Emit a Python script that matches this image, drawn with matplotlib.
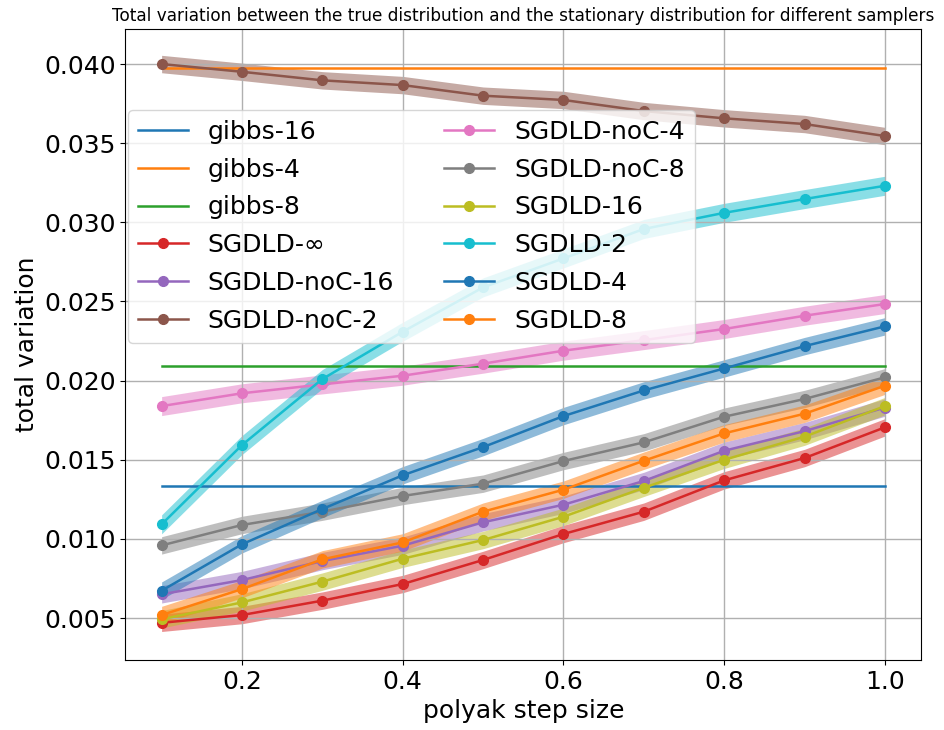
import numpy as np
import matplotlib
matplotlib.use("Agg")
import matplotlib.pyplot as plt

# polyak step sizes
steps = [0.1, 0.2, 0.3, 0.4, 0.5, 0.6, 0.7, 0.8, 0.9, 1.0]

# gibbs baselines (constant over step size)
gibbs_names = ["gibbs-16", "gibbs-4", "gibbs-8"]
gibbs_tv = [0.01332, 0.03977, 0.02092]

# SGDLD samplers
sgdld_names = ["SGDLD-∞", "SGDLD-noC-16", "SGDLD-noC-2", "SGDLD-noC-4",
               "SGDLD-noC-8", "SGDLD-16", "SGDLD-2", "SGDLD-4", "SGDLD-8"]
tv_inf = [0.00470, 0.00519, 0.00610, 0.00715, 0.00867, 0.01031, 0.01172, 0.01370, 0.01511, 0.01705]
tv_noc16 = [0.00650, 0.00740, 0.00860, 0.00957, 0.01105, 0.01216, 0.01366, 0.01557, 0.01681, 0.01830]
tv_noc2 = [0.04000, 0.03951, 0.03897, 0.03867, 0.03800, 0.03773, 0.03703, 0.03657, 0.03621, 0.03545]
tv_noc4 = [0.01839, 0.01920, 0.01976, 0.02031, 0.02107, 0.02189, 0.02256, 0.02326, 0.02410, 0.02484]
tv_noc8 = [0.00959, 0.01088, 0.01172, 0.01271, 0.01349, 0.01492, 0.01610, 0.01772, 0.01884, 0.02021]
tv_16 = [0.00492, 0.00599, 0.00730, 0.00875, 0.00993, 0.01140, 0.01323, 0.01500, 0.01646, 0.01839]
tv_2 = [0.01092, 0.01593, 0.02010, 0.02309, 0.02589, 0.02772, 0.02958, 0.03060, 0.03147, 0.03231]
tv_4 = [0.00673, 0.00966, 0.01189, 0.01402, 0.01580, 0.01776, 0.01938, 0.02077, 0.02218, 0.02343]
tv_8 = [0.00519, 0.00683, 0.00871, 0.00978, 0.01172, 0.01311, 0.01494, 0.01667, 0.01791, 0.01968]
sgdld_tv = [tv_inf, tv_noc16, tv_noc2, tv_noc4, tv_noc8, tv_16, tv_2, tv_4, tv_8]
# spread of each sampler's band
sgdld_err = [0.00055, 0.00055, 0.00055, 0.0006, 0.00055, 0.00055, 0.0006, 0.00055, 0.00055]

fig = plt.figure(figsize=(9.44, 7.3), dpi=100)
ax = fig.add_axes([0.1329, 0.0959, 0.8429, 0.8643])

x = np.array(steps)
for name, val in zip(gibbs_names, gibbs_tv):
    ax.plot(x, np.full(len(x), val), label=name, lw=1.8)

for name, tv, err in zip(sgdld_names, sgdld_tv, sgdld_err):
    tv = np.array(tv)
    line, = ax.plot(x, tv, marker="o", ms=7, lw=1.8, label=name)
    ax.fill_between(x, tv - err, tv + err, color=line.get_color(), alpha=0.5, lw=0)

ax.set_ylim(0.00235, 0.04221)
ax.grid(True, color="#b0b0b0", lw=1)
ax.tick_params(labelsize=18)
ax.set_xticks([0.2, 0.4, 0.6, 0.8, 1.0])
ax.set_yticks([0.005, 0.010, 0.015, 0.020, 0.025, 0.030, 0.035, 0.040])
ax.set_xlabel("polyak step size", fontsize=18)
ax.set_ylabel("total variation", fontsize=18)
ax.set_title("Total variation between the true distribution and the stationary distribution for different samplers",
             fontsize=12.2)
ax.legend(ncol=2, fontsize=18, loc="upper left", bbox_to_anchor=(0.003, 0.872),
          borderaxespad=0, labelspacing=0.55)

fig.savefig("out.png", dpi=100)
